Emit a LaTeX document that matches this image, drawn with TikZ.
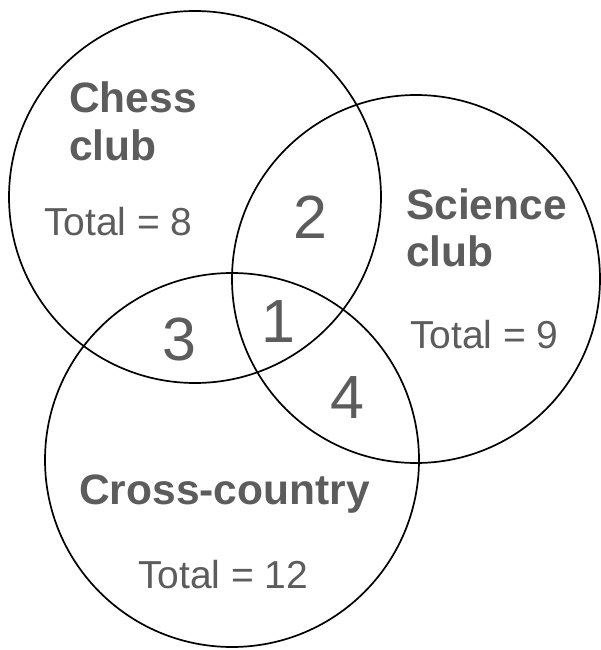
\documentclass[tikz,border=0pt]{standalone}
\usepackage{fontspec}
\setmainfont{Liberation Sans}
\definecolor{txtgray}{RGB}{92,92,92}
\begin{document}
\begin{tikzpicture}[x=1pt,y=-1pt,
  venn/.style={draw=black,line width=1.7pt,circle,inner sep=0pt},
  clublabel/.style={anchor=base west,inner sep=0pt,text=txtgray,font=\fontsize{42.5}{48}\selectfont\bfseries},
  totallabel/.style={anchor=base west,inner sep=0pt,text=txtgray,font=\fontsize{39}{44}\selectfont},
  countlabel/.style={anchor=base,inner sep=0pt,text=txtgray,font=\fontsize{61}{70}\selectfont}]
\useasboundingbox[fill=white] (0,0) rectangle (601,650);
% circles
\node[venn,minimum size=372pt] (chess) at (195,197) {};
\node[venn,minimum size=368pt] (science) at (416,279) {};
\node[venn,minimum size=374pt] (cross) at (232,460) {};
% club labels
\node[clublabel] (chessA) at (69,113) {Chess};
\node[clublabel] (chessB) at (69,160) {club};
\node[totallabel] (chessT) at (44,235) {Total = 8};
\node[clublabel] (sciA) at (406,219) {Science};
\node[clublabel] (sciB) at (406,266) {club};
\node[totallabel] (sciT) at (410,348) {Total = 9};
\node[clublabel] (crossA) at (79,504) {Cross-country};
\node[totallabel] (crossT) at (138,588) {Total = 12};
% region counts
\node[countlabel] (n2) at (310,238) {2};
\node[countlabel] (n3) at (179,360) {3};
\node[countlabel] (n1) at (278,342) {1};
\node[countlabel] (n4) at (347,418) {4};
\end{tikzpicture}
\end{document}
